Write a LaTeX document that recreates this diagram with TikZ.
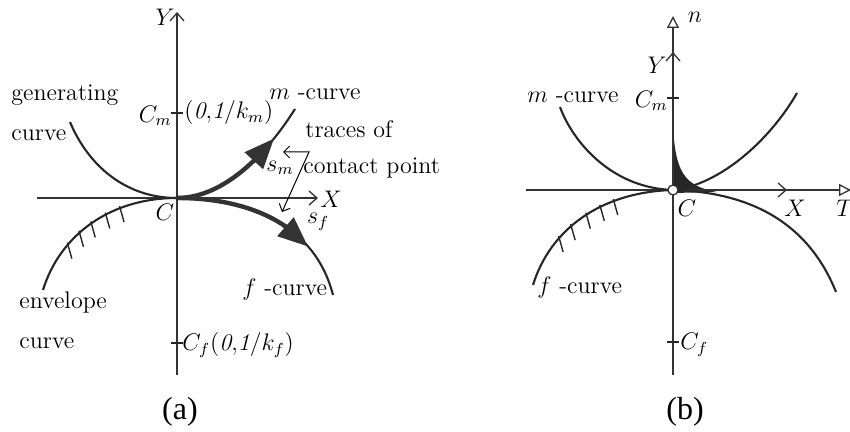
\documentclass[tikz,border=0pt]{standalone}
\usepackage{fontspec}
\newfontfamily\capfont{Liberation Serif}
\usetikzlibrary{arrows.meta, calc}

\begin{document}
\begin{tikzpicture}[x=0.5pt,y=-0.5pt,
  every node/.style={font=\fontsize{12}{14}\selectfont, inner sep=1pt},
  axis/.style={line width=0.65pt, draw=black!80},
  barb/.style={-{Straight Barb[length=4pt,width=7pt]}},
  opentip/.style={-{Triangle[open,length=6pt,width=6pt]}},
  curve/.style={line width=1.05pt, draw=black!85},
  trace/.style={line width=2.2pt, draw=black!80},
  tracetip/.style={trace, -{Triangle[length=15pt,width=12pt]}},
  hatch/.style={line width=0.7pt, draw=black!85},
  axtick/.style={line width=1.2pt, draw=black!85},
  caption/.style={font=\capfont\fontsize{16}{18}\selectfont}]
  \useasboundingbox (0,0) rectangle (850,432);

  % ---------- (a) ----------
  \coordinate (Ca) at (177,198);
  \coordinate (Cma) at (177,113);
  \coordinate (Cfa) at (177,343);
  \coordinate (Ybot) at (177,375);
  \coordinate (Ytop) at (177,12);
  \coordinate (Xlft) at (37,198);
  \coordinate (Xrgt) at (318,198);
  \draw[axis,barb] (Ybot) -- (Ytop);
  \draw[axis,barb] (Xlft) -- (Xrgt);
  \node (Ya) at (165,17) {$Y$};
  \node[anchor=west] (Xa) at (318,199) {$X$};
  \node (Ca lab) at (165,212) {$C$};

  % centres of curvature
  \draw[axtick] ($(Cma)+(-6,0)$) -- ($(Cma)+(6,0)$);
  \draw[axtick] ($(Cfa)+(-6,0)$) -- ($(Cfa)+(6,0)$);
  \node[anchor=east] (Cma lab) at (174,116) {$C_m$};
  \node[anchor=west] (Cma pos) at (182,113) {$(\mathit{0{,}1}/k_m)$};
  \node[anchor=west] (Cfa lab) at (180,345) {$C_f(\mathit{0{,}1}/k_f)$};

  % m-curve
  \draw[curve] (70,122) .. controls (88,165) and (125,198) .. (Ca);
  \draw[curve] (Ca) .. controls (225,198) and (268,152) .. (295,109);
  \draw[trace] (Ca) .. controls (205.8,198) and (232.8,181.4) .. (255.6,158.9);
  \draw[tracetip] (253.4,161.2) -- (274,138.6);
  % f-curve
  \draw[curve] (43,290) .. controls (60,235) and (110,198) .. (Ca);
  \draw[curve] (Ca) .. controls (250,198) and (315,225) .. (333,295);
  \draw[trace] (Ca) .. controls (218.6,198) and (257.6,206.8) .. (286.8,227.3);
  \draw[tracetip] (283.7,225.2) -- (308,246.5);
  \foreach \p in {0.31,0.41,0.50,0.60,0.69} {
    \path (43,290) .. controls (60,235) and (110,198) .. (177,198) coordinate[pos=\p] (ha);
    \draw[hatch] ($(ha)+(-0.5,-2)$) -- ++(4.5,16);
  }

  % traces of contact point
  \draw[line width=0.5pt, {Straight Barb[length=3pt,width=6pt]}-{Straight Barb[length=3pt,width=6pt]}]
    (283,152) -- (309,152) -- (282,212);
  \node (sm) at (280,168) {$s_m$};
  \node (sf) at (318,222) {$s_f$};
  \node[anchor=west] (traces) at (303,129) {traces of};
  \node[anchor=west] (contact) at (301,168) {contact point};

  \node[anchor=west] (gen) at (9,95) {generating};
  \node[anchor=west] (gen2) at (9,135) {curve};
  \node[anchor=west] (env) at (17,302) {envelope};
  \node[anchor=west] (env2) at (17,343) {curve};
  \node[anchor=west] (mla) at (267,94) {$m$ -curve};
  \node[anchor=west] (fla) at (240,290) {$f$ -curve};
  \node[caption] (capa) at (180,412) {(a)};

  % ---------- (b) ----------
  \coordinate (Cb) at (673,190);
  \coordinate (Cmb) at (673,98);
  \coordinate (Cfb) at (673,342);
  \coordinate (nbot) at (673,375);
  \coordinate (ntop) at (673,16);
  \coordinate (Yb) at (673,52);
  \coordinate (Tlft) at (526,190);
  \coordinate (Trgt) at (851,190);
  \coordinate (Xb) at (787,190);

  \fill[black!85] (673,193) -- (673,124) .. controls (675,172) and (684,186) .. (717,192) -- cycle;
  \draw[axis,opentip] (nbot) -- (ntop);
  \draw[axis,barb] (Cb) -- (Yb);
  \draw[axis,opentip] (Tlft) -- (Trgt);
  \draw[axis,barb] (Cb) -- (Xb);
  \node (nlab) at (695,17) {$n$};
  \node (Ylab) at (657,65) {$Y$};
  \node (Xlab) at (795,208) {$X$};
  \node (Tlab) at (845,208) {$T$};

  \draw[axtick] ($(Cmb)+(-6,0)$) -- ($(Cmb)+(6,0)$);
  \draw[axtick] ($(Cfb)+(-6,0)$) -- ($(Cfb)+(6,0)$);
  \node[anchor=east] (Cmb lab) at (670,101) {$C_m$};
  \node[anchor=west] (Cfb lab) at (678,345) {$C_f$};

  % m-curve
  \draw[curve] (560,107) .. controls (572,140) and (610,188) .. (Cb);
  \draw[curve] (Cb) .. controls (720,185) and (770,140) .. (797,93);
  % f-curve
  \draw[curve] (533,285) .. controls (550,230) and (600,192) .. (Cb);
  \draw[curve] (Cb) .. controls (740,192) and (805,215) .. (836,292);
  \foreach \p in {0.32,0.42,0.53,0.62,0.70} {
    \path (533,285) .. controls (550,230) and (600,192) .. (673,190) coordinate[pos=\p] (hb);
    \draw[hatch] ($(hb)+(-0.5,-2)$) -- ++(4.5,16);
  }
  \draw[axis, fill=white] (Cb) circle (5);
  \node (Cb lab) at (687,208) {$C$};

  \node[anchor=west] (mlb) at (525,97) {$m$ -curve};
  \node[anchor=west] (flb) at (535,287) {$f$ -curve};
  \node[caption] (capb) at (685,412) {(b)};
\end{tikzpicture}
\end{document}
